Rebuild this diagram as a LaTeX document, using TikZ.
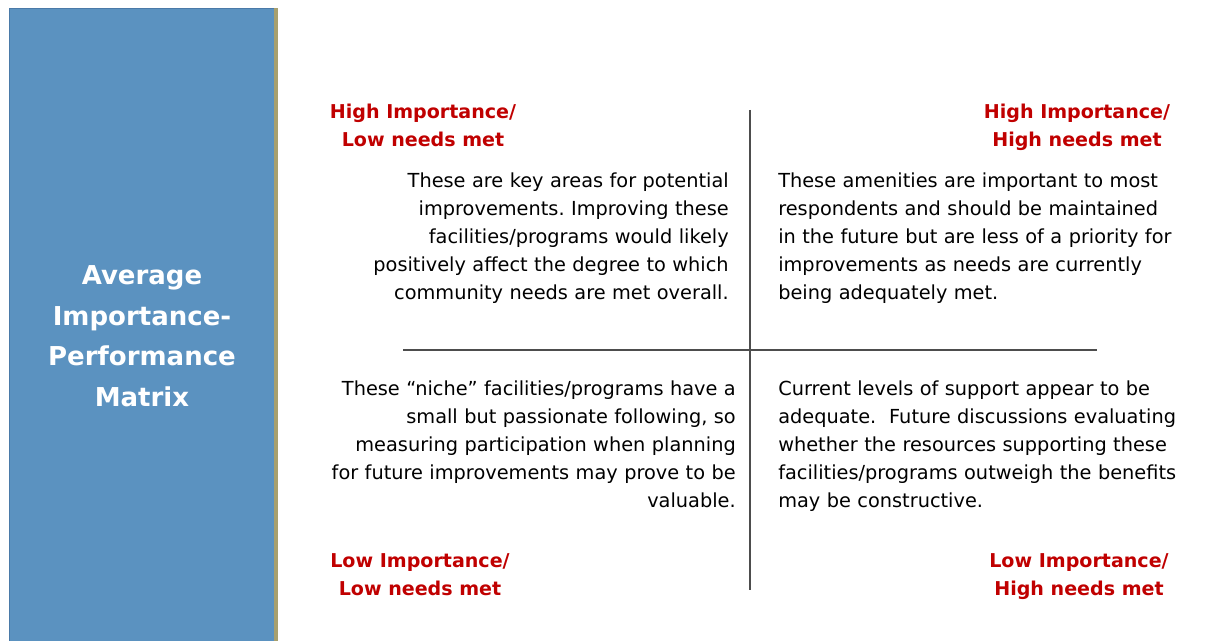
\documentclass[tikz,border=0pt]{standalone}
\usepackage{fontspec}
\setmainfont{DejaVu Sans}
\usepackage{tikz}
\usetikzlibrary{positioning}
\frenchspacing

\definecolor{panelblue}{RGB}{91,146,192}
\definecolor{paneledge}{RGB}{74,122,168}
\definecolor{goldstrip}{RGB}{168,160,110}
\definecolor{headred}{RGB}{192,0,0}
\definecolor{axisgray}{RGB}{77,77,77}

\begin{document}
\begin{tikzpicture}[
    x=0.75pt, y=-0.75pt,
    body/.style={inner sep=0pt, text width=315pt, font=\fontsize{14.5}{21}\selectfont},
    bodyl/.style={body, align=left, anchor=base west},
    bodyr/.style={body, align=right, anchor=base east},
    head/.style={inner sep=0pt, align=center, anchor=base, text=headred,
      font=\fontsize{14.3}{21}\selectfont\bfseries},
    axis/.style={draw=axisgray, line width=1.5pt}
  ]
    \useasboundingbox (0,0) rectangle (1225,641);
    % left panel
    \filldraw[fill=panelblue, draw=paneledge, line width=0.6pt] (9,8) rectangle (274,643);
    \fill[goldstrip] (274.3,8.5) rectangle (278,641);
    \node[inner sep=0pt, align=center, anchor=base, text=white,
      font=\fontsize{19.5}{30.75}\selectfont\bfseries] (title) at (142,407)
      {Average\\Importance-\\Performance\\Matrix};
    % axes
    \coordinate (top) at (750,110);
    \coordinate (bottom) at (750,590);
    \coordinate (left) at (403,350);
    \coordinate (right) at (1097,350);
    \draw[axis] (top) -- (bottom);
    \draw[axis] (left) -- (right);
    % quadrant headings
    \node[head] (hihl) at (423,147) {High Importance/\\Low needs met};
    \node[head] (hihh) at (1077,147) {High Importance/\\High needs met};
    \node[head] (lill) at (420,595) {Low Importance/\\Low needs met};
    \node[head] (lihh) at (1079,595) {Low Importance/\\High needs met};
    % quadrant texts
    \node[bodyr] (tl) at (729,188) {These are key areas for potential\\
      improvements. Improving these\\facilities/programs would likely\\
      positively affect the degree to which\\community needs are met overall.};
    \node[bodyl] (tr) at (778,188) {These amenities are important to most\\
      respondents and should be maintained\\in the future but are less of a priority for\\
      improvements as needs are currently\\being adequately met.};
    \node[bodyr] (bl) at (736,396) {These “niche” facilities/programs have a\\
      small but passionate following, so\\measuring participation when planning\\
      for future improvements may prove to be\\valuable.};
    \node[bodyl] (br) at (778,396) {Current levels of support appear to be\\
      adequate.\ \ Future discussions evaluating\\whether the resources supporting these\\
      facilities/programs outweigh the benefits\\may be constructive.};
  \end{tikzpicture}
\end{document}
